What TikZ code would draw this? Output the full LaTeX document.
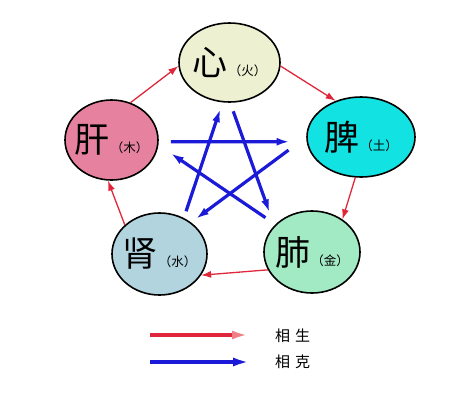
\documentclass[tikz,border=0pt]{standalone}
\usepackage{fontspec}
\newfontfamily\cjk{Noto Sans CJK SC}
\usetikzlibrary{shapes.geometric,arrows.meta}
\definecolor{xinc}{HTML}{EEF0D2}
\definecolor{ganc}{HTML}{E6829F}
\definecolor{pic}{HTML}{12E2E2}
\definecolor{shenc}{HTML}{B2D4DF}
\definecolor{feic}{HTML}{A2EAC4}
\definecolor{shengred}{HTML}{E0263A}
\definecolor{shengpink}{HTML}{F07F86}
\definecolor{keblue}{HTML}{1A1AD8}
\newcommand\zang[2]{\raisebox{-3pt}{\makebox[0pt][c]{{\fontsize{35}{35}\selectfont #1}\hspace{1pt}{\fontsize{12.5}{12.5}\selectfont （#2）}}}}

\begin{document}
\begin{tikzpicture}[x=1pt,y=-1pt,font=\cjk,
    zang/.style={ellipse,draw,line width=1.6pt,inner sep=0pt},
    sheng/.style={-{Latex[length=10pt,width=7pt]},draw=shengred,line width=1.3pt},
    ke/.style={-{Latex[length=13pt,width=8pt]},draw=keblue,line width=3.2pt},
    legend/.style={inner sep=0pt,anchor=west,font=\cjk\fontsize{15}{15}\selectfont}]
  \useasboundingbox (0,0) rectangle (462,410);
  % five organs
  \node[zang,fill=xinc,minimum width=101pt,minimum height=79pt] (xin) at (229.5,62.5) {\zang{心}{火}};
  \node[zang,fill=pic,minimum width=108pt,minimum height=80pt] (pi) at (361,137) {\zang{脾}{土}};
  \node[zang,fill=feic,minimum width=96pt,minimum height=82pt] (fei) at (312,252) {\zang{肺}{金}};
  \node[zang,fill=shenc,minimum width=95pt,minimum height=82pt] (shen) at (159.5,254) {\zang{肾}{水}};
  \node[zang,fill=ganc,minimum width=93pt,minimum height=80pt] (gan) at (111.5,140) {\zang{肝}{木}};
  % generating cycle
  \draw[sheng] (xin.-4) -- (pi.125);
  \draw[sheng] (pi.-98) -- (fei.47);
  \draw[sheng] (fei.-158) -- (shen.-27);
  \draw[sheng] (shen.140) -- (gan.-95);
  \draw[sheng] (gan.63) -- (xin.184);
  % overcoming star
  \draw[ke,shorten <=12pt,shorten >=17pt] (gan.-2) -- (pi.185);
  \draw[ke,shorten <=22pt,shorten >=6pt] (pi.180) -- (shen.45);
  \draw[ke,shorten <=7pt,shorten >=7pt] (shen.56) -- (xin.260);
  \draw[ke,shorten <=9pt,shorten >=14pt] (xin.271) -- (fei.145);
  \draw[ke,shorten <=12pt,shorten >=15pt] (fei.143) -- (gan.-6);
  % legend
  \node[legend] (lsheng) at (275,336) {相\hspace{5pt}生};
  \node[legend] (lke) at (275,362) {相\hspace{5pt}克};
  \coordinate (lsheng0) at (150,335);
  \coordinate (lke0) at (150,362);
  \draw[-{Latex[length=16pt,width=9pt,color=shengpink]},draw=shengred,line width=3.5pt,shorten >=27pt] (lsheng0) -- (lsheng0 -| lsheng.west);
  \draw[-{Latex[length=17pt,width=9pt]},draw=keblue,line width=3.5pt,shorten >=25pt] (lke0) -- (lke0 -| lke.west);
\end{tikzpicture}
\end{document}
